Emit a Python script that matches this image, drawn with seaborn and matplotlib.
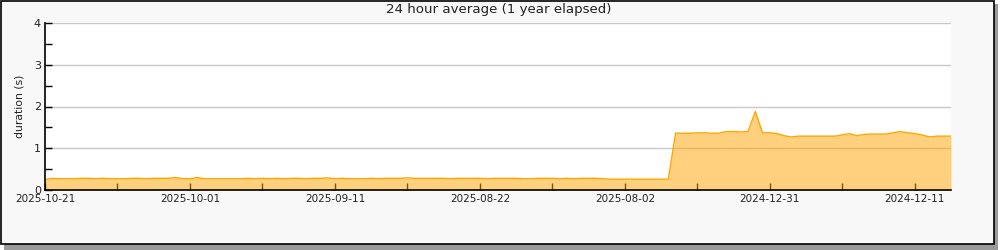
import matplotlib
matplotlib.use("Agg")
import matplotlib.pyplot as plt
import matplotlib.patches as mpatches
import seaborn as sns
import pandas as pd
import numpy as np

# ---- data ----
low_values = [0.25, 0.28, 0.27, 0.27, 0.27, 0.28, 0.28, 0.27, 0.28, 0.27,
              0.27, 0.27, 0.28, 0.28, 0.27, 0.28, 0.28, 0.28, 0.30, 0.27,
              0.27, 0.30, 0.27, 0.27, 0.27, 0.27, 0.27, 0.27, 0.28, 0.27,
              0.28, 0.27, 0.28, 0.27, 0.28, 0.28, 0.27, 0.28, 0.28, 0.29,
              0.27, 0.28, 0.27, 0.27, 0.27, 0.28, 0.27, 0.28, 0.28, 0.28,
              0.29, 0.28, 0.28, 0.28, 0.28, 0.28, 0.27, 0.28, 0.28, 0.28,
              0.28, 0.27, 0.28, 0.28, 0.28, 0.28, 0.27, 0.27, 0.28, 0.28,
              0.28, 0.27, 0.28, 0.27, 0.28, 0.28, 0.28, 0.27, 0.26, 0.26,
              0.26, 0.26, 0.26, 0.26, 0.26, 0.26, 0.26]
high_values = [1.36, 1.36, 1.36, 1.37, 1.37, 1.36, 1.36, 1.40, 1.40, 1.39,
               1.40, 1.88, 1.37, 1.37, 1.35, 1.30, 1.27, 1.29, 1.29, 1.29,
               1.29, 1.29, 1.29, 1.32, 1.35, 1.30, 1.33, 1.34, 1.34, 1.34,
               1.37, 1.40, 1.37, 1.35, 1.32, 1.27, 1.29, 1.29, 1.29]
durations = low_values + high_values
tick_positions = [0, 20, 40, 60, 80, 100, 120]
tick_labels = ["2025-10-21", "2025-10-01", "2025-09-11", "2025-08-22",
               "2025-08-02", "2024-12-31", "2024-12-11"]
title = "24 hour average (1 year elapsed)"
ylabel = "duration (s)"

df = pd.DataFrame({"idx": np.arange(len(durations)), "duration": durations})

sns.set_theme(style="white")
plt.rcParams["font.family"] = ["DejaVu Sans"]

fig = plt.figure(figsize=(10, 2.5), dpi=100)
fig.patch.set_facecolor("white")

# background panel with shadow and border
shadow = mpatches.Rectangle((0.004, 0.0), 0.994, 0.985, transform=fig.transFigure,
                            facecolor="#9a9a9a", edgecolor="none", zorder=-3)
panel = mpatches.Rectangle((0.0005, 0.024), 0.9935, 0.974, transform=fig.transFigure,
                           facecolor="#f8f8f8", edgecolor="black", linewidth=1.2, zorder=-2)
fig.patches.extend([shadow, panel])

ax = fig.add_axes([0.045, 0.24, 0.906, 0.668])
ax.set_facecolor("white")

ax.fill_between(df["idx"], df["duration"], 0, color="#FFA500", alpha=0.5,
                linewidth=0, zorder=2)
sns.lineplot(data=df, x="idx", y="duration", ax=ax, color="#FFA500",
             linewidth=1.0, zorder=3)

ax.set_xlim(0, len(durations) - 1)
ax.set_ylim(0, 4)
ax.set_yticks([0, 1, 2, 3, 4])
ax.set_yticks([0.5, 1.5, 2.5, 3.5], minor=True)
ax.set_xticks(tick_positions)
ax.set_xticklabels(tick_labels)
ax.set_xticks([10, 30, 50, 70, 90, 110], minor=True)
ax.tick_params(axis="both", which="both", direction="in", length=5, width=1,
               color="black", labelsize=7.5, labelcolor="#222222", pad=3,
               bottom=True, left=True)
ax.tick_params(axis="y", labelsize=8)
ax.grid(axis="y", color="#c8c8c8", linewidth=1, zorder=1)
ax.set_axisbelow(True)
for s in ["top", "right"]:
    ax.spines[s].set_visible(False)
for s in ["left", "bottom"]:
    ax.spines[s].set_color("black")
    ax.spines[s].set_linewidth(1.2)
    ax.spines[s].set_zorder(5)

ax.set_xlabel("")
ax.set_ylabel(ylabel, fontsize=7.8, color="#222222", labelpad=6.5)
fig.text(0.4987, 0.962, title, ha="center", va="center", fontsize=9.6, color="#222222")

fig.savefig("out.png", dpi=100)
